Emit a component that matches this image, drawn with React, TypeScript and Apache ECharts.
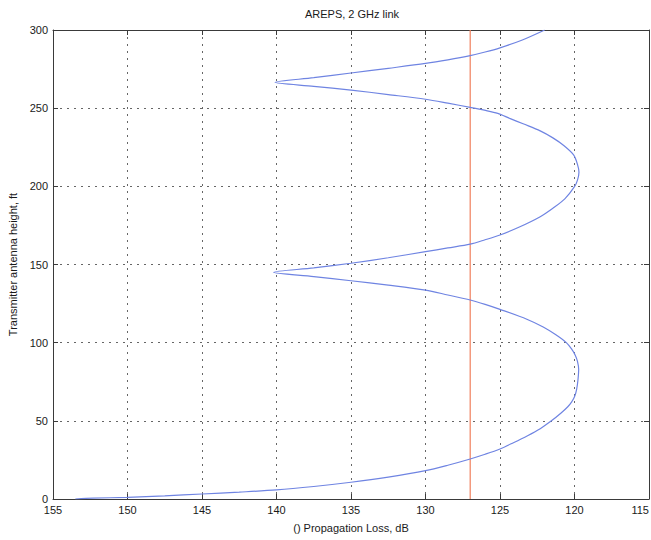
import React, { useEffect, useRef } from "react";
import * as echarts from "echarts";

const titleText = "AREPS, 2 GHz link";
const xAxisName = "() Propagation Loss, dB";
const yAxisName = "Transmitter antenna height, ft";

// Antenna heights (ft) along the curve, paired with propagation loss (dB)
const heights = [
  0, 0.5, 1.1, 2, 3.2, 4.4, 5.8, 8, 10.7, 14, 18.1, 21.6, 25.6, 28.6, 32, 36, 40.5, 45, 50, 55,
  59, 62, 65.4, 70, 76, 83, 88, 92, 96, 100, 105, 110, 115, 121.3, 124.5, 127.3, 130.5, 133.6, 136.8, 139.6, 142.3, 145,
  147.8, 150.8, 154.3, 158.2, 160.6, 163, 165.8, 168.9, 174, 180.6, 186, 192, 199.8, 204, 209,
  214, 220, 226, 231, 235.5, 240, 243.5, 246.7, 248.7, 250.5, 253.2, 255.7, 258.7, 261.6, 264, 266.5,
  269.5, 272.5, 275.5, 278.6, 280.9, 283.6, 285.9, 288.6, 293.6, 300,
];
const losses = [
  153.5, 152.3, 150, 147.5, 145, 142.5, 140, 137.5, 135, 132.5, 130, 128.5, 127, 126, 125, 124.1, 123.15, 122.3, 121.55, 120.9,
  120.45, 120.2, 120, 119.86, 119.77, 119.72, 119.8, 119.95, 120.2, 120.55, 121.25, 122.1, 123.2, 125, 126, 127, 128.5, 130, 132.5, 135, 137.5, 140.2,
  137.5, 135, 132.5, 130, 128.5, 127, 126, 125, 123.7, 122.3, 121.45, 120.65, 120, 119.8, 119.7,
  119.8, 120.05, 120.7, 121.45, 122.3, 123.45, 124.35, 125.15, 126.05, 127, 128.5, 130, 132.5, 135, 137.5, 140.1,
  137.5, 135, 132.5, 130, 128.5, 127, 126, 125, 123.5, 122,
];

const thresholdLoss = [127, 127];
const thresholdHeight = [0, 300];

const xTicks = [155, 150, 145, 140, 135, 130, 125, 120, 115];
const yTicks = [0, 50, 100, 150, 200, 250, 300];

export default function App() {
  const ref = useRef<HTMLDivElement>(null);

  useEffect(() => {
    if (!ref.current) return;
    const chart = echarts.init(ref.current, undefined, { renderer: "svg" });
    const font = "'Liberation Sans', Arial, sans-serif";
    const axisColor = "#3a3a3a";
    const textColor = "#1a1a1a";
    const xMin = Math.min(...xTicks);
    const xMax = Math.max(...xTicks);
    const yMin = Math.min(...yTicks);
    const yMax = Math.max(...yTicks);

    const curve = heights.map((h, i) => [losses[i], h]);
    const threshold = thresholdHeight.map((h, i) => [thresholdLoss[i], h]);

    const baseX = {
      type: "value" as const,
      min: xMin,
      max: xMax,
      interval: 5,
      inverse: true,
      axisLine: { show: true, onZero: false, lineStyle: { color: axisColor, width: 1 } },
      axisTick: { show: true, inside: true, length: 5, lineStyle: { color: axisColor } },
    };
    const baseY = {
      type: "value" as const,
      min: yMin,
      max: yMax,
      interval: 50,
      axisLine: { show: true, onZero: false, lineStyle: { color: axisColor, width: 1 } },
      axisTick: { show: true, inside: true, length: 5, lineStyle: { color: axisColor } },
    };

    chart.setOption({
      animation: false,
      backgroundColor: "#ffffff",
      title: {
        text: titleText,
        left: 347,
        textAlign: "center",
        top: 3,
        textStyle: { fontFamily: font, fontSize: 11, fontWeight: "normal", color: textColor },
      },
      grid: { left: 53, right: 2, top: 30, bottom: 41, containLabel: false, outerBoundsMode: "none" },
      xAxis: [
        {
          ...baseX,
          position: "bottom",
          name: xAxisName,
          nameLocation: "middle",
          nameGap: 23,
          nameTextStyle: { fontFamily: font, fontSize: 11, color: textColor },
          axisLabel: {
            fontFamily: font,
            fontSize: 11,
            color: textColor,
            margin: 5,
            formatter: (v: number) => String(v),
            alignMinLabel: "right",
            alignMaxLabel: "center",
          },
          splitLine: { show: true, lineStyle: { color: "#666", type: [2, 5], width: 1 } },
        },
        {
          ...baseX,
          position: "top",
          axisLabel: { show: false },
          splitLine: { show: false },
        },
      ],
      yAxis: [
        {
          ...baseY,
          position: "left",
          name: yAxisName,
          nameLocation: "middle",
          nameGap: 30,
          nameTextStyle: { fontFamily: font, fontSize: 11, color: textColor },
          axisLabel: { fontFamily: font, fontSize: 11, color: textColor, margin: 5 },
          splitLine: { show: true, lineStyle: { color: "#666", type: [2, 5], width: 1 } },
        },
        {
          ...baseY,
          position: "right",
          axisLabel: { show: false },
          splitLine: { show: false },
        },
      ],
      series: [
        {
          type: "line",
          data: curve,
          showSymbol: false,
          symbol: "none",
          smooth: 0.3,
          lineStyle: { color: "#6f84e2", width: 1.2 },
          xAxisIndex: 0,
          yAxisIndex: 0,
          z: 3,
        },
        {
          type: "line",
          data: threshold,
          showSymbol: false,
          symbol: "none",
          lineStyle: { color: "#f07f5c", width: 1.2 },
          xAxisIndex: 0,
          yAxisIndex: 0,
          z: 2,
        },
      ],
    });

    return () => chart.dispose();
  }, []);

  return <div ref={ref} style={{ width: 651, height: 540, position: "absolute", left: 0, top: 0 }} />;
}
